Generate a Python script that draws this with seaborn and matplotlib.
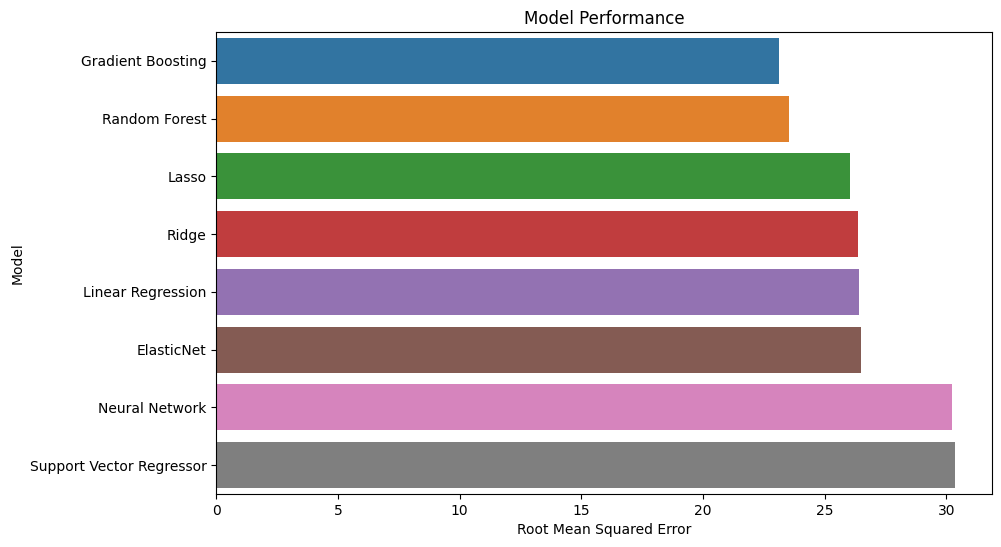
import pandas as pd
import seaborn as sns
import matplotlib.pyplot as plt

# RMSE per model
models = ['Gradient Boosting', 'Random Forest', 'Lasso', 'Ridge',
          'Linear Regression', 'ElasticNet', 'Neural Network',
          'Support Vector Regressor']
rmse = [23.11, 23.53, 26.04, 26.37, 26.41, 26.49, 30.23, 30.35]

df = pd.DataFrame({'Model': models, 'Root Mean Squared Error': rmse})

fig = plt.figure(figsize=(10.01, 5.47), dpi=100)
ax = fig.add_axes([0.2161, 0.0969, 0.7746, 0.8446])
sns.barplot(data=df, x='Root Mean Squared Error', y='Model', hue='Model',
            palette='tab10', legend=False, ax=ax)
ax.set_title('Model Performance')

plt.savefig('out.png')
